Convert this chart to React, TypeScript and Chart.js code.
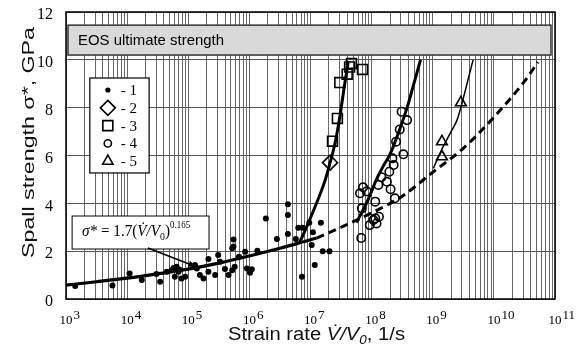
import React, { useEffect, useRef } from 'react';
import { Chart, registerables } from 'chart.js';
Chart.register(...registerables);

const SANS = '"Liberation Sans", Arial, sans-serif';
const SERIF = '"Liberation Serif", "Times New Roman", serif';

// ---- data (x stored as log10 of strain rate, 1/s; y = spall strength, GPa) ----
// Series 1 (small filled dots)
const s1LogRate = [3.15, 3.76, 4.04, 4.24, 4.48, 4.54, 4.65, 4.73, 4.81, 4.78, 4.84, 4.89, 4.95, 4.76, 4.86, 5.11, 5.19, 5.25, 5.14, 5.33, 5.33, 5.44, 5.49, 5.52, 5.66, 5.6, 5.74, 5.74, 5.72, 5.83, 5.76, 5.72, 5.93, 5.96, 6.01, 6.04, 6.13, 6.27, 6.45, 6.63, 6.63, 6.63, 6.76, 6.8, 6.87, 6.86, 6.98, 7.17, 7.04, 7.02, 7.2, 7.31, 7.07];
const s1Strength = [0.54, 0.56, 1.07, 0.79, 1.05, 0.72, 1.14, 1.21, 1.35, 0.93, 1.14, 0.86, 0.93, 1.3, 1.22, 1.42, 1.0, 0.86, 1.28, 1.67, 1.14, 1.0, 1.84, 1.56, 1.0, 1.25, 2.19, 2.49, 2.12, 1.77, 1.35, 1.2, 1.98, 1.28, 1.1, 1.24, 2.02, 3.37, 2.51, 3.96, 3.51, 2.72, 2.51, 2.98, 2.98, 0.93, 3.19, 3.19, 2.79, 2.26, 2.0, 2.0, 1.42];
// Series 2 (diamonds)
const s2LogRate = [7.32];
const s2Strength = [5.7];
// Series 3 (squares)
const s3LogRate = [7.36, 7.44, 7.48, 7.6, 7.64, 7.67, 7.85];
const s3Strength = [6.6, 7.55, 9.05, 9.4, 9.7, 9.85, 9.6];
// Series 4 (open circles)
const s4LogRate = [7.83, 7.84, 7.97, 8.03, 8.08, 8.12, 8.06, 7.81, 7.86, 7.92, 8.06, 8.16, 8.11, 8.25, 8.31, 8.38, 8.29, 8.34, 8.52, 8.4, 8.46, 8.58, 8.49, 8.36];
const s4Strength = [2.55, 3.79, 3.09, 3.3, 3.16, 3.44, 3.37, 4.42, 4.67, 4.5, 4.07, 5.09, 4.77, 4.9, 4.59, 4.21, 5.32, 5.88, 6.05, 6.58, 7.09, 7.48, 7.83, 5.6];
// Series 5 (triangles)
const s5LogRate = [9.15, 9.15, 9.46];
const s5Strength = [5.95, 6.58, 8.21];

// Curves
const fitLogRate = [3, 3.5, 4, 4.5, 5, 5.5, 6, 6.5, 7, 7.1];
const fitStrength = [0.58, 0.72, 0.87, 1.05, 1.25, 1.5, 1.8, 2.12, 2.48, 2.55];
const dashLogRate = [7.1, 7.5, 8, 8.5, 9, 9.5, 10, 10.5, 10.72];
const dashStrength = [2.55, 3.0, 3.6, 4.3, 5.3, 6.3, 7.6, 9.1, 9.9];
const c23LogRate = [6.82, 6.9, 7.05, 7.24, 7.32, 7.4, 7.48, 7.56, 7.62];
const c23Strength = [2.36, 2.8, 3.7, 4.97, 5.7, 6.5, 7.62, 9.0, 9.95];
const c4LogRate = [7.75, 7.86, 7.95, 8.08, 8.2, 8.3, 8.46, 8.58, 8.68, 8.8];
const c4Strength = [3.2, 3.72, 4.2, 5.0, 5.6, 6.05, 7.1, 8.0, 8.9, 10.0];
const c5LogRate = [9.01, 9.17, 9.3, 9.4, 9.48, 9.57, 9.66];
const c5Strength = [5.46, 6.37, 7.0, 7.5, 8.2, 9.1, 10.0];

// Axis labels
const xTickExponents = [3, 4, 5, 6, 7, 8, 9, 10, 11];
const yTickValues = [0, 2, 4, 6, 8, 10, 12];
const legendLabels = ['- 1', '- 2', '- 3', '- 4', '- 5'];

const pts = (lg: number[], v: number[]) => lg.map((l, i) => ({ x: Math.pow(10, l), y: v[i] }));

type Run = { t: string; f: string; dy?: number };
function drawRuns(ctx: CanvasRenderingContext2D, runs: Run[], x: number, y: number, target?: number) {
  let w = 0;
  for (const r of runs) { ctx.font = r.f; w += ctx.measureText(r.t).width; }
  const s = target ? target / w : 1;
  ctx.save();
  ctx.translate(x, y);
  ctx.scale(s, 1);
  ctx.textAlign = 'left';
  ctx.textBaseline = 'alphabetic';
  let cx = 0;
  for (const r of runs) {
    ctx.font = r.f;
    ctx.fillText(r.t, cx, r.dy || 0);
    cx += ctx.measureText(r.t).width;
  }
  ctx.restore();
}

function marker(ctx: CanvasRenderingContext2D, kind: number, x: number, y: number) {
  ctx.beginPath();
  ctx.lineWidth = 1.6;
  ctx.strokeStyle = '#000';
  ctx.fillStyle = '#000';
  if (kind === 0) { ctx.arc(x, y, 2.6, 0, Math.PI * 2); ctx.fill(); return; }
  if (kind === 1) { ctx.moveTo(x - 7.5, y); ctx.lineTo(x, y - 7.5); ctx.lineTo(x + 7.5, y); ctx.lineTo(x, y + 7.5); ctx.closePath(); }
  if (kind === 2) { ctx.rect(x - 5, y - 5, 10, 10); }
  if (kind === 3) { ctx.arc(x, y, 3.6, 0, Math.PI * 2); }
  if (kind === 4) { ctx.moveTo(x, y - 6); ctx.lineTo(x + 5.2, y + 3); ctx.lineTo(x - 5.2, y + 3); ctx.closePath(); }
  ctx.stroke();
}

const overlay = {
  id: 'overlay',
  afterDraw(chart: any) {
    const { ctx, chartArea: a, scales } = chart;
    const xs = scales.x, ys = scales.y;
    const X = (lg: number) => xs.getPixelForValue(Math.pow(10, lg));
    const Y = (v: number) => ys.getPixelForValue(v);
    ctx.save();
    // frame
    ctx.strokeStyle = '#000';
    ctx.lineWidth = 1.5;
    ctx.strokeRect(a.left, a.top, a.right - a.left, a.bottom - a.top);

    // x tick labels 10^n
    ctx.fillStyle = '#000';
    for (const e of xTickExponents) {
      const px = X(e);
      ctx.font = '13px ' + SERIF;
      ctx.textBaseline = 'alphabetic';
      ctx.textAlign = 'center';
      ctx.fillText('10', px, a.bottom + 25);
      const w = ctx.measureText('10').width;
      ctx.textAlign = 'left';
      ctx.fillText(String(e), px + w / 2 + 1, a.bottom + 20);
    }
    // y tick labels
    ctx.font = '16px ' + SERIF;
    ctx.textAlign = 'right';
    ctx.textBaseline = 'middle';
    for (const v of yTickValues) ctx.fillText(String(v), a.left - 13, Y(v) + 3);

    // axis titles
    ctx.fillStyle = '#111';
    drawRuns(ctx, [
      { t: 'Strain rate ', f: '18px ' + SANS },
      { t: 'V\u0307/V', f: 'italic 18px ' + SANS },
      { t: '0', f: 'italic 12px ' + SANS, dy: 4 },
      { t: ', 1/s', f: '18px ' + SANS },
    ], 228, 340, 177);
    ctx.save();
    ctx.translate(34, 258);
    ctx.rotate(-Math.PI / 2);
    drawRuns(ctx, [{ t: 'Spall strength \u03c3*, GPa', f: '16px ' + SANS }], 0, 0, 231);
    ctx.restore();

    // EOS ultimate strength band
    const bx0 = a.left + 2, bx1 = a.right - 4, by0 = Y(11.45), by1 = Y(10.2);
    ctx.fillStyle = '#d9d9d9';
    ctx.fillRect(bx0, by0, bx1 - bx0, by1 - by0);
    ctx.strokeStyle = '#333';
    ctx.lineWidth = 1.5;
    ctx.strokeRect(bx0, by0, bx1 - bx0, by1 - by0);
    ctx.fillStyle = '#000';
    drawRuns(ctx, [{ t: 'EOS ultimate strength', f: '15px ' + SANS }], bx0 + 10, by0 + 20, 146);

    // legend box
    const lx0 = X(3.39), lx1 = X(4.36), ly0 = Y(9.24), ly1 = Y(5.27);
    ctx.fillStyle = '#fff';
    ctx.fillRect(lx0, ly0, lx1 - lx0, ly1 - ly0);
    ctx.strokeStyle = '#000';
    ctx.lineWidth = 1.2;
    ctx.strokeRect(lx0, ly0, lx1 - lx0, ly1 - ly0);
    legendLabels.forEach((lab, i) => {
      const cy = ly0 + 12 + i * 17.8;
      marker(ctx, i, lx0 + 18, cy);
      ctx.fillStyle = '#000';
      drawRuns(ctx, [{ t: lab, f: '15px ' + SERIF }], lx0 + 31, cy + 5);
    });

    // formula box
    const fx0 = X(3.1), fx1 = X(5.34), fy0 = Y(3.47), fy1 = Y(2.09);
    ctx.fillStyle = '#fff';
    ctx.fillRect(fx0, fy0, fx1 - fx0, fy1 - fy0);
    ctx.strokeStyle = '#000';
    ctx.lineWidth = 1;
    ctx.strokeRect(fx0, fy0, fx1 - fx0, fy1 - fy0);
    ctx.fillStyle = '#000';
    drawRuns(ctx, [
      { t: '\u03c3*', f: 'italic 17px ' + SERIF },
      { t: ' = 1.7(', f: '17px ' + SERIF },
      { t: 'V\u0307/V', f: 'italic 17px ' + SERIF },
      { t: '0', f: '11px ' + SERIF, dy: 4 },
      { t: ')', f: '17px ' + SERIF },
      { t: '0.165', f: '10px ' + SERIF, dy: -8 },
    ], fx0 + 10, fy0 + 20, 108);

    // arrow
    const ax0 = X(4.34), ay0 = Y(2.13), ax1 = X(5.14), ay1 = Y(1.34);
    ctx.strokeStyle = '#000';
    ctx.lineWidth = 1.5;
    ctx.beginPath();
    ctx.moveTo(ax0, ay0);
    ctx.lineTo(ax1, ay1);
    ctx.stroke();
    const ang = Math.atan2(ay1 - ay0, ax1 - ax0);
    ctx.beginPath();
    ctx.moveTo(ax1, ay1);
    ctx.lineTo(ax1 - 9 * Math.cos(ang - 0.35), ay1 - 9 * Math.sin(ang - 0.35));
    ctx.lineTo(ax1 - 9 * Math.cos(ang + 0.35), ay1 - 9 * Math.sin(ang + 0.35));
    ctx.closePath();
    ctx.fill();
    ctx.restore();
  },
};

export default function App() {
  const ref = useRef<HTMLCanvasElement>(null);
  useEffect(() => {
    document.body.style.margin = '0';
    const curve = (data: any, width: number, dash: number[] = []) => ({
      data, showLine: true, borderColor: '#000', borderWidth: width, borderDash: dash,
      pointRadius: 0, fill: false, tension: 0.4, cubicInterpolationMode: 'monotone',
    });
    const marks = (data: any, style: string, r: number, filled: boolean) => ({
      data, showLine: false, pointStyle: style, pointRadius: r,
      pointBackgroundColor: filled ? '#000' : 'rgba(0,0,0,0)',
      pointBorderColor: '#000', pointBorderWidth: filled ? 0 : 1.6,
    });
    const chart = new Chart(ref.current!, {
      type: 'scatter',
      data: {
        datasets: [
          curve(pts(fitLogRate, fitStrength), 3.2),
          curve(pts(dashLogRate, dashStrength), 3, [8, 5]),
          curve(pts(c23LogRate, c23Strength), 3),
          curve(pts(c4LogRate, c4Strength), 3),
          curve(pts(c5LogRate, c5Strength), 1.5),
          marks(pts(s1LogRate, s1Strength), 'circle', 3, true),
          marks(pts(s2LogRate, s2Strength), 'rectRot', 7.5, false),
          marks(pts(s3LogRate, s3Strength), 'rect', 7, false),
          marks(pts(s4LogRate, s4Strength), 'circle', 4.2, false),
          marks(pts(s5LogRate, s5Strength), 'triangle', 6.2, false),
        ] as any,
      },
      options: {
        animation: false,
        responsive: false,
        devicePixelRatio: 1,
        layout: { padding: { left: 66, right: 26, top: 12, bottom: 59 } },
        plugins: { legend: { display: false }, tooltip: { enabled: false } },
        scales: {
          x: {
            type: 'logarithmic', min: 1e3, max: 1e11,
            ticks: { display: false, autoSkip: false },
            afterBuildTicks: (scale: any) => {
              const t: any[] = [];
              for (let e = 3; e < 11; e++) for (let m = 1; m < 10; m++) t.push({ value: m * Math.pow(10, e) });
              t.push({ value: 1e11 });
              scale.ticks = t;
            },
            grid: { color: '#666', lineWidth: 1, drawTicks: false },
            border: { display: false },
          },
          y: {
            min: 0, max: 12,
            ticks: { display: false, stepSize: 2 },
            grid: { color: '#555', lineWidth: 1, drawTicks: false },
            border: { display: false },
          },
        },
      } as any,
      plugins: [overlay],
    });
    return () => chart.destroy();
  }, []);
  return (
    <div style={{ width: 581, height: 358 }}>
      <canvas ref={ref} width={581} height={358} style={{ display: 'block' }} />
    </div>
  );
}
